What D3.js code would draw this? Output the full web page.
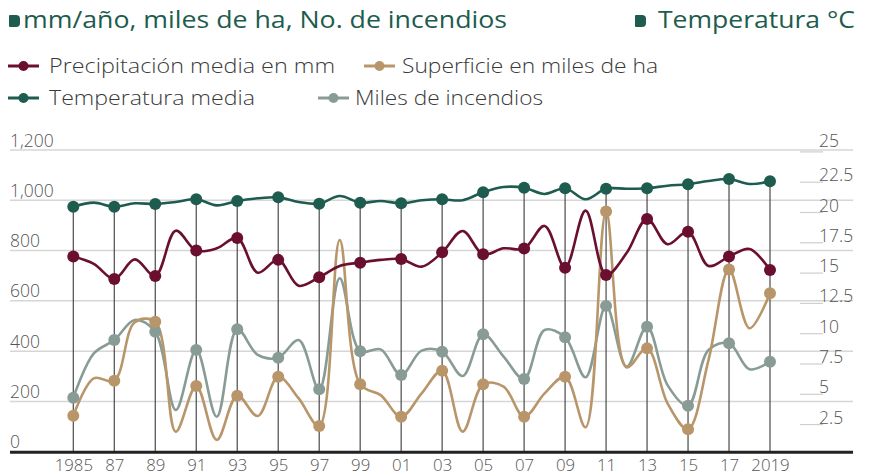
<!DOCTYPE html>
<html>
<head>
<meta charset="utf-8">
<script src="https://cdn.jsdelivr.net/npm/d3@7"></script>
<style>
  html, body { margin: 0; padding: 0; background: #fff; }
  svg { display: block; }
  text { font-family: "Open Sans", "Noto Sans", sans-serif; }
</style>
</head>
<body>
<svg id="chart" width="872" height="476"></svg>
<script>
// ---------- data ----------
const years = d3.range(1985, 2020);
const precipitacion = [776, 747, 687, 765, 699, 879, 800, 809, 850, 712,
  763, 660, 694, 739, 752, 763, 766, 736, 793, 878,
  785, 809, 808, 898, 732, 959, 703, 790, 926, 825,
  875, 739, 776, 806, 723];
const superficie = [143, 292, 282, 515, 517, 80, 261, 47, 223, 142,
  298, 212, 102, 842, 268, 225, 139, 232, 322, 80,
  268, 259, 139, 232, 298, 97, 955, 336, 411, 192,
  89, 365, 725, 491, 630];
const temperatura = [20.44, 20.77, 20.44, 20.72, 20.66, 20.83, 21.05, 20.55, 20.91, 21.13,
  21.21, 20.83, 20.69, 21.32, 20.77, 20.91, 20.72, 20.97, 21.05, 20.97,
  21.63, 22.06, 22.0, 21.49, 21.96, 21.05, 21.92, 21.92, 21.96, 22.17,
  22.29, 22.56, 22.72, 22.31, 22.53];
const incendios = [215, 391, 444, 524, 477, 166, 405, 139, 487, 385,
  374, 444, 248, 690, 400, 407, 305, 402, 398, 301,
  467, 378, 289, 484, 455, 296, 580, 338, 497, 265,
  183, 405, 431, 328, 358];
const tickYears = d3.range(1985, 2020, 2);
const tickYearLabels = ["1985","87","89","91","93","95","97","99","01","03","05","07","09","11","13","15","17","2019"];
const leftTicks = [0, 200, 400, 600, 800, 1000, 1200];
const rightTicks = [2.5, 5, 7.5, 10, 12.5, 15, 17.5, 20, 22.5, 25];
const titleLeft = "mm/año, miles de ha, No. de incendios";
const titleRight = "Temperatura °C";
const seriesNames = ["Precipitación media en mm", "Superficie en miles de ha", "Temperatura media", "Miles de incendios"];
const colors = {prec: "#6a0f30", sup: "#b8966a", temp: "#1d5c4e", inc: "#889c95"};

// ---------- scales ----------
const svg = d3.select("#chart");
const x = d3.scaleLinear().domain([1985, 2019]).range([73.3, 770]);
const yL = d3.scaleLinear().domain([0, 1200]).range([451.7, 150]);
const yR = d3.scaleLinear().domain([0, 25]).range([454.4, 151.4]);

function fit(sel, w) {
  sel.attr("textLength", w).attr("lengthAdjust", "spacingAndGlyphs");
}

// ---------- headers ----------
function tag(g, x0, y0) {
  g.append("path")
    .attr("d", `M${x0},${y0 + 1} q0,-1 1,-1 h6 q4,0 4,4 v4 q0,4 -4,4 h-6 q-1,0 -1,-1 z`)
    .attr("fill", colors.temp);
}
tag(svg, 9, 15);
svg.append("text").attr("x", 23).attr("y", 28).text(titleLeft)
  .attr("font-size", 23).attr("font-weight", 500).attr("fill", colors.temp)
  .call(fit, 484);
tag(svg, 635, 15);
svg.append("text").attr("x", 658).attr("y", 28).text(titleRight)
  .attr("font-size", 23).attr("font-weight", 500).attr("fill", colors.temp)
  .call(fit, 197);

// ---------- legend ----------
const legendItems = [
  {name: seriesNames[0], color: colors.prec, lx: 8, tx: 49, tw: 286, y: 66},
  {name: seriesNames[1], color: colors.sup, lx: 364, tx: 402, tw: 256, y: 66},
  {name: seriesNames[2], color: colors.temp, lx: 8, tx: 49, tw: 206, y: 98},
  {name: seriesNames[3], color: colors.inc, lx: 318, tx: 355, tw: 188, y: 98}
];
legendItems.forEach(d => {
  const g = svg.append("g");
  g.append("line").attr("x1", d.lx).attr("x2", d.lx + 31).attr("y1", d.y).attr("y2", d.y)
    .attr("stroke", d.color).attr("stroke-width", 3);
  g.append("circle").attr("cx", d.lx + 15.5).attr("cy", d.y).attr("r", 5).attr("fill", d.color);
  g.append("text").attr("x", d.tx).attr("y", d.y + 7).text(d.name)
    .attr("font-size", 19.5).attr("font-weight", 300).attr("fill", "#3a3a3a")
    .call(fit, d.tw);
});

// ---------- grid ----------
svg.append("g").selectAll("line").data(leftTicks.slice(1)).join("line")
  .attr("x1", 10).attr("x2", 853)
  .attr("y1", d => yL(d)).attr("y2", d => yL(d))
  .attr("stroke", "#d6d6d6").attr("stroke-width", 1.5);

// left axis labels
const gl = svg.append("g").attr("transform", "translate(10,0)")
  .call(d3.axisRight(yL).tickValues(leftTicks).tickSize(0).tickFormat(d3.format(",")));
gl.select(".domain").remove();
gl.selectAll("text").attr("x", 0).attr("dy", 0).attr("y", -4)
  .attr("font-size", 17.5).attr("font-weight", 300).attr("fill", "#555")
  .style("font-family", '"Open Sans", sans-serif');

// right axis: short ticks + labels
const gr = svg.append("g").attr("transform", "translate(800,0)")
  .call(d3.axisRight(yR).tickValues(rightTicks).tickSize(0).tickFormat(d => d3.format("~g")(d)));
gr.select(".domain").remove();
gr.selectAll(".tick").append("line").attr("x1", 0).attr("x2", 23).attr("y1", 0).attr("y2", 0)
  .attr("stroke", "#cfcfcf").attr("stroke-width", 1.2);
gr.selectAll("text").attr("x", 19).attr("dy", 0).attr("y", d => d === 25 ? -4.5 : -1)
  .attr("font-size", 17.5).attr("font-weight", 300).attr("fill", "#555")
  .style("font-family", '"Open Sans", sans-serif');

// vertical lines at odd years
svg.append("g").selectAll("line").data(tickYears).join("line")
  .attr("x1", d => x(d)).attr("x2", d => x(d))
  .attr("y1", d => yR(temperatura[d - 1985])).attr("y2", yL(0))
  .attr("stroke", "#4a4a4a").attr("stroke-width", 1.2);

// baseline
svg.append("line").attr("x1", 10).attr("x2", 853).attr("y1", yL(0) + 0.5).attr("y2", yL(0) + 0.5)
  .attr("stroke", "#222").attr("stroke-width", 3);

// x axis labels
const gx = svg.append("g").attr("transform", `translate(0,${yL(0)})`)
  .call(d3.axisBottom(x).tickValues(tickYears).tickSize(0).tickFormat((d, i) => tickYearLabels[i]));
gx.select(".domain").remove();
gx.selectAll("text").attr("dy", 0).attr("y", 19.8)
  .attr("font-size", 16.8).attr("font-weight", 300).attr("fill", "#555")
  .style("font-family", '"Open Sans", sans-serif');

// ---------- series ----------
const series = [
  {vals: incendios, color: colors.inc, y: yL},
  {vals: superficie, color: colors.sup, y: yL},
  {vals: precipitacion, color: colors.prec, y: yL},
  {vals: temperatura, color: colors.temp, y: yR}
];
series.forEach(s => {
  const line = d3.line().x((d, i) => x(years[i])).y(d => s.y(d)).curve(d3.curveCatmullRom.alpha(0.5));
  svg.append("path").datum(s.vals).attr("d", line)
    .attr("fill", "none").attr("stroke", s.color).attr("stroke-width", 2.6);
});
series.forEach(s => {
  svg.append("g").selectAll("circle").data(tickYears).join("circle")
    .attr("cx", d => x(d)).attr("cy", d => s.y(s.vals[d - 1985]))
    .attr("r", 6).attr("fill", s.color);
});
</script>
</body>
</html>
